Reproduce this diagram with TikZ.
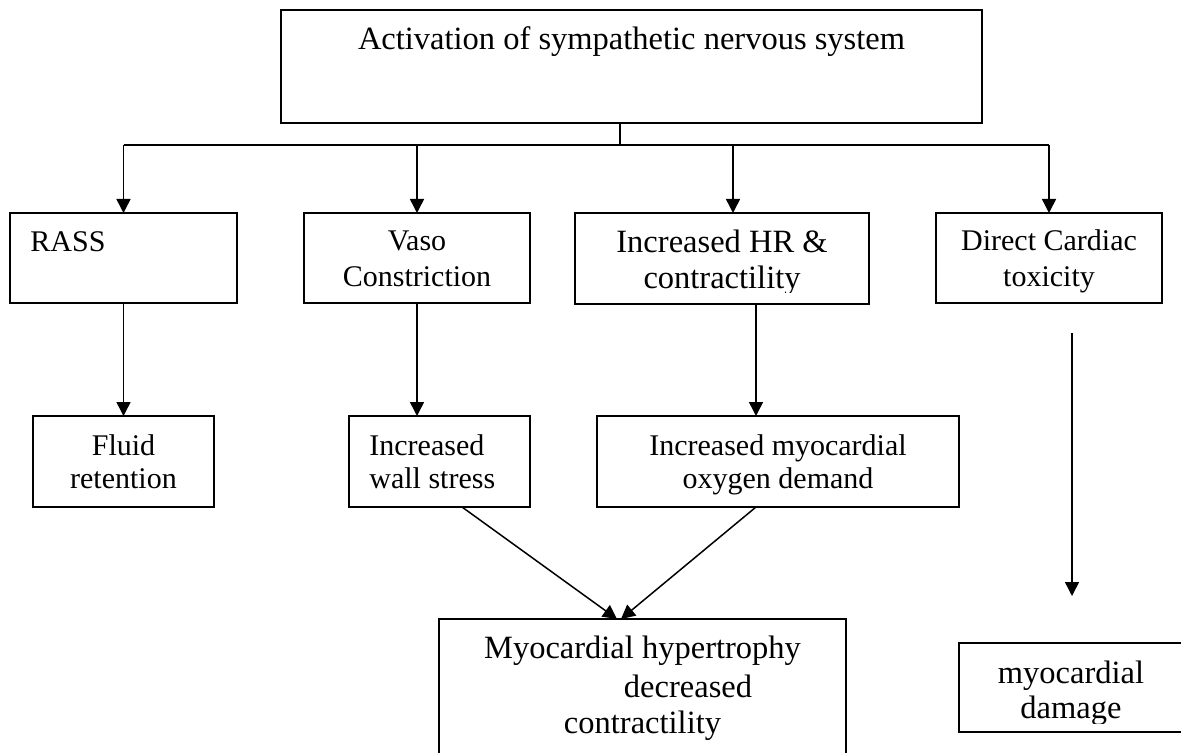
\documentclass[tikz,border=0pt]{standalone}
\usepackage{fontspec}
\setmainfont{Liberation Serif}
\usetikzlibrary{arrows.meta}
\begin{document}
\begin{tikzpicture}[x=0.5pt,y=-0.5pt,
  box/.style={draw, line width=0.8pt, inner sep=0pt, outer sep=0pt},
  link/.style={line width=0.75pt, -{Triangle[width=7pt,length=7pt]}},
  wire/.style={line width=0.75pt},
  txt/.style={inner sep=0pt, anchor=base, font=\fontsize{15}{17.5}\selectfont},
  big/.style={font=\fontsize{16.25}{18}\selectfont}]
\useasboundingbox (0,0) rectangle (1181,753);

% ---- boxes ----
\node[box, minimum width=350.5pt, minimum height=56.5pt] (sns)    at (631.5,66.5) {};
\node[box, minimum width=113.5pt, minimum height=45pt]   (rass)   at (123.5,258) {};
\node[box, minimum width=113pt,   minimum height=45pt]   (vaso)   at (417,258) {};
\node[box, minimum width=147pt,   minimum height=45.5pt] (hr)     at (722,258.5) {};
\node[box, minimum width=113pt,   minimum height=45pt]   (direct) at (1049,258) {};
\node[box, minimum width=90.5pt,  minimum height=45.5pt] (fluid)  at (123.5,461.5) {};
\node[box, minimum width=90.5pt,  minimum height=45.5pt] (wall)   at (439.5,461.5) {};
\node[box, minimum width=181pt,   minimum height=45.5pt] (oxy)    at (778,461.5) {};
\node[box, minimum width=203.5pt, minimum height=85.5pt] (hyper)  at (642.5,704.5) {};
\node[box, minimum width=112pt,   minimum height=44.5pt] (damage) at (1071,687.2) {};

% ---- texts ----
\node[txt, big] (sns-t) at (631.5,50) {Activation of sympathetic nervous system};
\node[txt, anchor=base west] (rass-t) at (30,252) {RASS};
\node[txt] (vaso-t) at (417,251) {\begin{tabular}[t]{@{}c@{}}Vaso\\Constriction\end{tabular}};
\begin{scope}
  \clip (575,213) rectangle (869,293);
  \node[txt, big] (hr-t) at (722,253) {\begin{tabular}[t]{@{}c@{}}Increased HR \&\\contractility\end{tabular}};
\end{scope}
\node[txt] (direct-t) at (1049,251) {\begin{tabular}[t]{@{}c@{}}Direct Cardiac\\toxicity\end{tabular}};
\node[txt, font=\fontsize{15}{16.5}\selectfont] (fluid-t) at (123.5,455) {\begin{tabular}[t]{@{}c@{}}Fluid\\retention\end{tabular}};
\node[txt, anchor=base west, font=\fontsize{15}{16.5}\selectfont] (wall-t) at (369,455) {\begin{tabular}[t]{@{}l@{}}Increased\\wall stress\end{tabular}};
\node[txt, font=\fontsize{15}{16.5}\selectfont] (oxy-t) at (778,455) {\begin{tabular}[t]{@{}c@{}}Increased myocardial\\oxygen demand\end{tabular}};
\node[txt, big] (hyper-t) at (642.5,658) {\begin{tabular}[t]{@{}c@{}}Myocardial hypertrophy\\[1.5pt]\hspace*{45.5pt}decreased\\contractility\end{tabular}};
\begin{scope}
  \clip (959,642) rectangle (1181,723);
  \node[txt, font=\fontsize{16.25}{17.5}\selectfont] (damage-t) at (1071,683) {\begin{tabular}[t]{@{}c@{}}myocardial\\damage\end{tabular}};
\end{scope}

% ---- distribution bus from the top box ----
\coordinate (stem) at (620,145);
\coordinate (hrj) at (733,145);
\draw[wire] (sns.south -| stem) -- (stem);
\draw[wire] (rass.north |- stem) -- (direct.north |- stem);
\draw[link] (rass.north |- stem) -- (rass.north);
\draw[link] (vaso.north |- stem) -- (vaso.north);
\draw[link] (hrj) -- (hrj |- hr.north);
\draw[link] (direct.north |- stem) -- (direct.north);

% ---- second level ----
\draw[link] (rass) -- (fluid);
\draw[link] (vaso.south) -- (vaso.south |- wall.north);
\coordinate (hrout) at ([xshift=17pt]hr.south);
\draw[link] (hrout) -- (hrout |- oxy.north);

% ---- converging arrows ----
\draw[link] ([xshift=11.25pt]wall.south) -- ([xshift=-12.75pt]hyper.north);
\draw[link] ([xshift=-11pt]oxy.south) -- ([xshift=-10.75pt]hyper.north);

% ---- free-standing arrow towards myocardial damage ----
\coordinate (dtop) at (1072,333);
\coordinate (dend) at (1072,596);
\draw[link] (dtop) -- (dend);
\end{tikzpicture}
\end{document}
